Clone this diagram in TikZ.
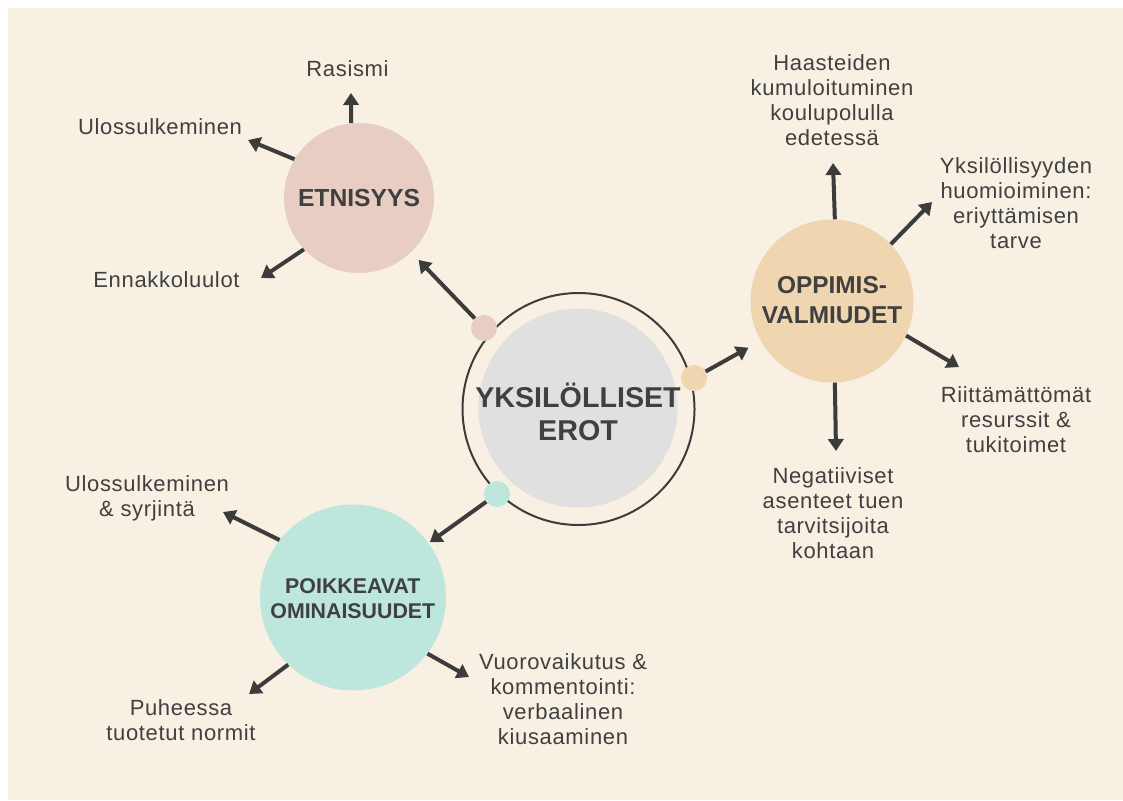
\documentclass[tikz,border=0pt]{standalone}
\usepackage{fontspec}
\setmainfont{Liberation Sans}
\newfontfamily\bodyfont{Liberation Sans}[LetterSpace=3]
\newfontfamily\headfont{Liberation Sans}
\usetikzlibrary{arrows.meta}
\definecolor{cream}{HTML}{F8F0E2}
\definecolor{pinkc}{HTML}{E8CDC3}
\definecolor{orangec}{HTML}{F0D6B0}
\definecolor{tealc}{HTML}{BDE6DD}
\definecolor{grayc}{HTML}{E0E0E0}
\definecolor{inkc}{HTML}{3C3C3C}
\definecolor{textc}{HTML}{404040}
\begin{document}
\begin{tikzpicture}[x=0.75pt,y=-0.75pt,
  txt/.style={text=textc, font=\bodyfont\fontsize{16.5}{18.75}\selectfont, align=center, inner sep=0pt},
  headtxt/.style={text=textc, align=center, inner sep=0pt},
  disc/.style={circle, inner sep=0pt, draw=none},
  arr/.style={draw=inkc, line width=3pt, -{Triangle[length=9pt,width=11.5pt]}}]
\useasboundingbox (0,0) rectangle (1123,800);
\fill[white] (0,0) rectangle (1123,800);
\fill[cream] (8,8) rectangle (1123,800);

% main circles
\node[disc, draw=inkc, line width=1.5pt, minimum size={232*0.75pt}] (ring) at (578.5,409) {};
\node[disc, fill=grayc, minimum size={199*0.75pt}] (hub) at (578,408) {};
\node[disc, fill=pinkc, minimum size={150*0.75pt}] (etn) at (359,198) {};
\node[disc, fill=orangec, minimum size={163*0.75pt}] (opp) at (832,301) {};
\node[disc, fill=tealc, minimum size={186*0.75pt}] (poik) at (353,597.5) {};

% small dots on the ring
\node[disc, minimum size={26*0.75pt}] (dotP) at (484,328) {};
\node[disc, minimum size={26*0.75pt}] (dotO) at (694,378) {};
\node[disc, minimum size={26*0.75pt}] (dotT) at (497,494) {};

% connectors from dots to category circles
\draw[arr, shorten >=8pt] (dotP) -- (etn);
\draw[arr, shorten >=10.5pt] (dotO) -- (opp);
\draw[arr, shorten >=1pt] (dotT) -- (poik);

\fill[pinkc] (dotP.center) circle[radius={13*0.75pt}];
\fill[orangec] (dotO.center) circle[radius={13*0.75pt}];
\fill[tealc] (dotT.center) circle[radius={13*0.75pt}];

% arrow tips
\coordinate (eA) at (351,93);
\coordinate (eB) at (248,140);
\coordinate (eC) at (261,278);
\coordinate (oA) at (833,163);
\coordinate (oB) at (932,202);
\coordinate (oC) at (959,367);
\coordinate (oD) at (836,451);
\coordinate (pA) at (223,512);
\coordinate (pB) at (249,694);
\coordinate (pC) at (469,677);

\draw[arr] (etn.96) -- (eA);
\draw[arr] (etn.149) -- (eB);
\draw[arr] (etn.223) -- (eC);
\draw[arr] (opp.88) -- (oA);
\draw[arr] (opp.44.5) -- (oB);
\draw[arr] (opp.-25) -- (oC);
\draw[arr] (opp.-88) -- (oD);
\draw[arr] (poik.142) -- (pA);
\draw[arr] (poik.226) -- (pB);
\draw[arr] (poik.-37) -- (pC);

% headings
\node[headtxt, font=\headfont\bfseries\fontsize{21.5}{24.75}\selectfont] (hubT) at (578,411.7) {YKSILÖLLISET\\EROT};
\node[headtxt, font=\headfont\bfseries\fontsize{18.5}{21}\selectfont] (etnT) at (359,198) {ETNISYYS};
\node[headtxt, font=\headfont\bfseries\fontsize{18.3}{22.5}\selectfont] (oppT) at (832,300.5) {OPPIMIS-\\VALMIUDET};
\node[headtxt, font=\headfont\bfseries\fontsize{16}{19.25}\selectfont] (poikT) at (352.8,598.5) {POIKKEAVAT\\OMINAISUUDET};

% leaf texts
\node[txt] (tRas) at (347.5,69) {Rasismi};
\node[txt] (tUlo) at (160,127) {Ulossulkeminen};
\node[txt] (tEnn) at (166.5,280) {Ennakkoluulot};
\node[txt] (tHaa) at (832,100.6) {Haasteiden\\kumuloituminen\\koulupolulla\\edetessä};
\node[txt] (tYks) at (1016,203) {Yksilöllisyyden\\huomioiminen:\\eriyttämisen\\tarve};
\node[txt] (tRii) at (1016,420) {Riittämättömät\\resurssit \&\\tukitoimet};
\node[txt] (tNeg) at (833,513) {Negatiiviset\\asenteet tuen\\tarvitsijoita\\kohtaan};
\node[txt] (tVuo) at (563,699.6) {Vuorovaikutus \&\\kommentointi:\\verbaalinen\\kiusaaminen};
\node[txt] (tUs) at (147,498) {Ulossulkeminen\\\& syrjintä};
\node[txt] (tPuh) at (181,720.6) {Puheessa\\tuotetut normit};
\end{tikzpicture}
\end{document}
